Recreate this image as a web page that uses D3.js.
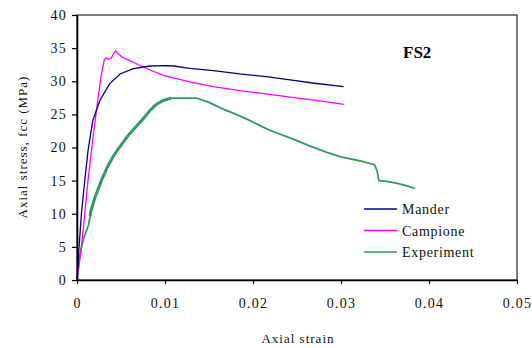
<!DOCTYPE html>
<html>
<head>
<meta charset="utf-8">
<script src="https://cdn.jsdelivr.net/npm/d3@7"></script>
<style>
  html, body { margin: 0; padding: 0; background: #fff; }
  svg { display: block; font-family: "Liberation Serif", "Times New Roman", serif; }
</style>
</head>
<body>
<svg id="chart" width="532" height="348"></svg>
<script>
// ---- data (strain, stress MPa) ----
const seriesNames = ["Mander", "Campione", "Experiment"];
const mander = [
  [0,0],[0.00023,4.9],[0.0005,10],[0.00088,15],[0.00125,19.5],[0.0018,24.1],
  [0.0026,27.1],[0.0037,29.6],[0.0049,31.1],[0.0064,31.9],[0.0083,32.3],
  [0.0102,32.35],[0.0110,32.3],[0.0128,31.95],[0.0155,31.6],[0.0185,31.1],
  [0.0215,30.7],[0.0242,30.2],[0.0270,29.7],[0.0303,29.2]
];
const campione = [
  [0,0],[0.0005,4.9],[0.00088,10],[0.00125,15],[0.00164,19.5],[0.0022,25.5],
  [0.0027,30.5],[0.0031,33.2],[0.0033,33.5],[0.0036,33.3],[0.0039,33.5],
  [0.0042,34.3],[0.0044,34.6],[0.0047,34.1],[0.0052,33.6],[0.0060,33.1],
  [0.0068,32.6],[0.0083,31.7],[0.0098,30.9],[0.0128,29.9],[0.0155,29.2],
  [0.0185,28.6],[0.0215,28.1],[0.0242,27.6],[0.0272,27.1],[0.0303,26.5]
];
const experiment = [
  [0,0],[0.0002,2.5],[0.0005,4.9],[0.0008,6.5],[0.00107,7.4],[0.0013,8.3],
  [0.0015,9.6],[0.00155,10.3],[0.002,12.3],[0.00277,15],[0.0035,17.2],
  [0.0041,18.6],[0.0048,20.0],[0.0058,21.8],[0.00675,23.2],[0.0075,24.3],
  [0.0083,25.6],[0.009,26.5],[0.0098,27.1],[0.0107,27.45],[0.0136,27.45],
  [0.0150,26.8],[0.0166,25.8],[0.0181,25.0],[0.0196,24.1],[0.0208,23.3],
  [0.0219,22.6],[0.0245,21.3],[0.0265,20.2],[0.0283,19.3],[0.0300,18.6],
  [0.0321,18.0],[0.0338,17.4],[0.0341,16.5],[0.0343,15.0],[0.0352,14.9],
  [0.0364,14.6],[0.0375,14.2],[0.0384,13.8]
];
const xTicks = [0, 0.01, 0.02, 0.03, 0.04, 0.05];
const xTickLabels = ["0", "0.01", "0.02", "0.03", "0.04", "0.05"];
const yTicks = [0, 5, 10, 15, 20, 25, 30, 35, 40];
const panelLabel = "FS2";
const xTitle = "Axial strain";
const yTitle = "Axial stress, fcc (MPa)";

// ---- layout ----
const svg = d3.select("#chart");
const L = 77, T = 15, W = 440, H = 265;
const x = d3.scaleLinear().domain([0, 0.05]).range([L, L + W]);
const y = d3.scaleLinear().domain([0, 40]).range([T + H, T]);
const colors = {Mander: "#000080", Campione: "#ff00ff", Experiment: "#339966"};

// frame (top/right)
svg.append("rect").attr("x", L).attr("y", T).attr("width", W).attr("height", H)
  .attr("fill", "none").attr("stroke", "#222").attr("stroke-width", 1.2);

const line = d3.line().x(d => x(d[0])).y(d => y(d[1]));

// experiment (thicker noisy rising portion)
svg.append("path").datum(experiment).attr("d", line)
  .attr("fill", "none").attr("stroke", colors.Experiment).attr("stroke-width", 1.8);
svg.append("path").datum(experiment.filter(d => d[0] >= 0.0015 && d[0] <= 0.0108)).attr("d", line)
  .attr("fill", "none").attr("stroke", colors.Experiment).attr("stroke-width", 3);
svg.append("path").datum(campione).attr("d", line)
  .attr("fill", "none").attr("stroke", colors.Campione).attr("stroke-width", 1.3);
svg.append("path").datum(mander).attr("d", line)
  .attr("fill", "none").attr("stroke", colors.Mander).attr("stroke-width", 1.3);

// axes
const xAxis = d3.axisBottom(x).tickValues(xTicks).tickFormat((d, i) => xTickLabels[i])
  .tickSizeInner(4).tickSizeOuter(0).tickPadding(14);
const gx = svg.append("g").attr("transform", `translate(0,${T + H})`).call(xAxis);
const yAxis = d3.axisLeft(y).tickValues(yTicks).tickFormat(d3.format("d"))
  .tickSizeInner(5).tickSizeOuter(0).tickPadding(6);
const gy = svg.append("g").attr("transform", `translate(${L},0)`).call(yAxis);
[gx, gy].forEach(g => {
  g.select(".domain").attr("stroke", "#000").attr("stroke-width", 1.6);
  g.selectAll(".tick line").attr("stroke", "#000").attr("stroke-width", 1.2);
  g.selectAll(".tick text").attr("fill", "#111")
    .style("font-family", "'Liberation Serif', serif").style("font-size", "14px")
    .style("letter-spacing", "1.2px");
});
gy.selectAll(".tick text").attr("x", -10);

// titles
svg.append("text").attr("x", 298).attr("y", 343).attr("text-anchor", "middle")
  .style("font-size", "13px").style("letter-spacing", "1px").attr("fill", "#111").text(xTitle);
svg.append("text").attr("transform", "translate(27,147) rotate(-90)").attr("text-anchor", "middle")
  .style("font-size", "13px").style("letter-spacing", "1px").attr("fill", "#111").text(yTitle);

svg.append("text").attr("x", 403).attr("y", 58).style("font-size", "17px")
  .style("font-weight", "bold").attr("fill", "#000").text(panelLabel);

// legend
const lg = svg.append("g");
seriesNames.forEach((n, i) => {
  const yy = 209 + i * 21.5;
  lg.append("line").attr("x1", 364).attr("x2", 397).attr("y1", yy).attr("y2", yy)
    .attr("stroke", colors[n]).attr("stroke-width", 1.6);
  lg.append("text").attr("x", 402).attr("y", yy + 5).style("font-size", "14px")
    .style("letter-spacing", "0.7px").attr("fill", "#111").text(n);
});
</script>
</body>
</html>
